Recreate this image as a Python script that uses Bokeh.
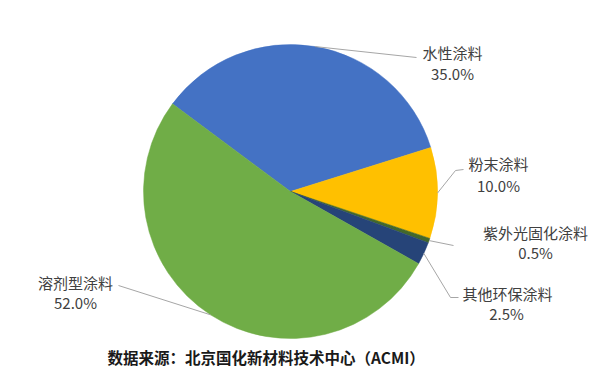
import numpy as np
from bokeh.plotting import figure
from bokeh.models import Range1d, ColumnDataSource
from bokeh.core.properties import value
from bokeh.embed import file_html
from bokeh.resources import INLINE

# ---- data ----
categories = ["水性涂料", "粉末涂料", "紫外光固化涂料", "其他环保涂料", "溶剂型涂料"]
shares = [35.0, 10.0, 0.5, 2.5, 52.0]
pct_labels = ["35.0%", "10.0%", "0.5%", "2.5%", "52.0%"]
colors = ["#4472C4", "#FFC000", "#43682B", "#264478", "#70AD47"]
source_note = "数据来源：北京国化新材料技术中心（ACMI）"

# ---- layout (window pixel coords, y measured from top of window) ----
IMG_H = 385
def Y(y):
    return IMG_H - y

cx, cy, r = 290, Y(191), 147
start_deg = 143.4

name_pos = [(452, 52), (498, 163), (535, 232), (507, 293), (75, 282)]
pct_pos = [(452, 73), (498, 185), (535, 252), (506, 313), (75, 302)]
leader_pts = [
    [(416, 57)],
    [(455, 170), (463, 169)],
    [(453, 245)],
    [(450, 297), (458, 297)],
    [(118, 285)],
]

p = figure(width=595, height=377, x_range=Range1d(0, 595), y_range=Range1d(8, 385),
           output_backend="svg", toolbar_location=None, min_border=0,
           x_axis_location=None, y_axis_location=None)
p.grid.visible = False
p.outline_line_color = None
p.background_fill_color = "white"

frac = np.array(shares) / 100.0
cum = np.concatenate([[0], np.cumsum(frac)])
a0 = np.deg2rad(start_deg)
a_start = a0 - 2 * np.pi * cum[:-1]
a_end = a0 - 2 * np.pi * cum[1:]

src = ColumnDataSource(dict(s=a_end, e=a_start, c=colors, cat=categories))
p.wedge(x=cx, y=cy, radius=r, start_angle="s", end_angle="e",
        fill_color="c", line_color="c", line_width=0.5, source=src)

# leader lines
mid = (a_start + a_end) / 2
xs, ys = [], []
for m, pts in zip(mid, leader_pts):
    lx = [cx + r * np.cos(m)] + [pt[0] for pt in pts]
    ly = [cy + r * np.sin(m)] + [Y(pt[1]) for pt in pts]
    xs.append(lx)
    ys.append(ly)
p.multi_line(xs=xs, ys=ys, line_color="#A6A6A6", line_width=1)

font = value("Noto Sans CJK SC")
p.text(x=[q[0] for q in name_pos], y=[Y(q[1]) for q in name_pos], text=categories,
       text_font=font, text_font_size="15px", text_color="#404040",
       text_align="center", text_baseline="middle")
p.text(x=[q[0] for q in pct_pos], y=[Y(q[1]) for q in pct_pos], text=pct_labels,
       text_font=font, text_font_size="15px", text_color="#404040",
       text_align="center", text_baseline="middle")
p.text(x=[107], y=[Y(356)], text=[source_note], text_font=font, text_font_size="15.5px",
       text_color="#1a1a1a", text_font_style="bold", text_align="left", text_baseline="middle")

open("out.html", "w").write(file_html(p, INLINE))
